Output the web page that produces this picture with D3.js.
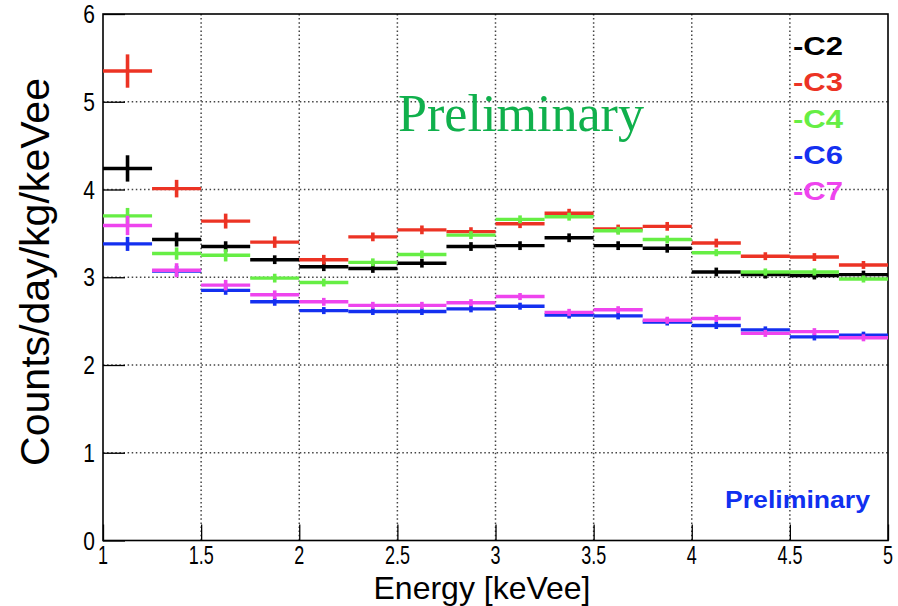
<!DOCTYPE html>
<html><head><meta charset="utf-8">
<script src="https://cdn.jsdelivr.net/npm/d3@7/dist/d3.min.js"></script>
<style>body{margin:0;background:#fff}svg{display:block}</style>
</head><body>
<script>
// ---- data ----
const binCenters = [1.125,1.375,1.625,1.875,2.125,2.375,2.625,2.875,3.125,3.375,3.625,3.875,4.125,4.375,4.625,4.875];
const binHalfWidth = 0.125;
const seriesNames = ["C2","C3","C4","C6","C7"];
const C2 = [4.24,3.43,3.35,3.20,3.12,3.10,3.16,3.35,3.36,3.45,3.36,3.33,3.06,3.03,3.02,3.03];
const C3 = [5.35,4.01,3.64,3.40,3.20,3.46,3.54,3.52,3.61,3.73,3.55,3.58,3.39,3.24,3.23,3.14];
const C4 = [3.70,3.27,3.25,2.99,2.94,3.17,3.26,3.48,3.66,3.69,3.53,3.43,3.28,3.06,3.06,2.98];
const C6 = [3.38,3.07,2.85,2.72,2.62,2.61,2.61,2.64,2.67,2.57,2.56,2.49,2.45,2.40,2.32,2.34];
const C7 = [3.59,3.08,2.91,2.80,2.72,2.68,2.68,2.71,2.78,2.60,2.63,2.51,2.53,2.36,2.38,2.31];
const C2err = [0.15,0.08,0.06,0.05,0.05,0.05,0.05,0.05,0.05,0.05,0.05,0.05,0.05,0.045,0.045,0.045];
const C3err = [0.19,0.10,0.085,0.065,0.055,0.05,0.05,0.05,0.05,0.05,0.05,0.05,0.05,0.045,0.045,0.045];
const C4err = [0.09,0.07,0.07,0.05,0.045,0.045,0.045,0.045,0.045,0.045,0.045,0.045,0.04,0.04,0.04,0.04];
const C6err = [0.08,0.06,0.05,0.045,0.04,0.04,0.04,0.04,0.04,0.04,0.04,0.04,0.04,0.04,0.04,0.04];
const C7err = [0.11,0.08,0.06,0.05,0.045,0.04,0.04,0.04,0.04,0.04,0.04,0.04,0.04,0.04,0.04,0.04];
const xTicks = [1,1.5,2,2.5,3,3.5,4,4.5,5];
const yTicks = [0,1,2,3,4,5,6];
const xTitle = "Energy [keVee]";
const yTitle = "Counts/day/kg/keVee";
const watermark1 = "Preliminary";
const watermark2 = "Preliminary";

const colors = {C2:"#000000",C3:"#ec3324",C4:"#66ee44",C6:"#1430f0",C7:"#ee44ee"};
const values = {C2,C3,C4,C6,C7};
const errors = {C2:C2err,C3:C3err,C4:C4err,C6:C6err,C7:C7err};

// ---- layout ----
const W = 898, H = 606;
const L = 103, R = 888, T = 14, B = 540.5;
const svg = d3.select("body").append("svg").attr("width",W).attr("height",H);
const x = d3.scaleLinear().domain([1,5]).range([L,R]);
const y = d3.scaleLinear().domain([0,6]).range([B,T]);
const fontSans = "'Liberation Sans', Arial, Helvetica, sans-serif";

// grid
const grid = svg.append("g").attr("stroke","#444").attr("stroke-width",1.5).attr("stroke-dasharray","1.5,2.6");
grid.selectAll("line.gx").data(xTicks.slice(1,-1)).join("line").attr("class","gx")
  .attr("x1",d=>x(d)).attr("x2",d=>x(d)).attr("y1",T).attr("y2",B);
grid.selectAll("line.gy").data(yTicks.slice(1,-1)).join("line").attr("class","gy")
  .attr("x1",L).attr("x2",R).attr("y1",d=>y(d)).attr("y2",d=>y(d));

// axes (ticks from d3 axis, labels placed with the same scales)
const xAxis = d3.axisBottom(x).tickValues(xTicks).tickSize(-16).tickFormat("");
const yAxis = d3.axisLeft(y).tickValues(yTicks).tickSize(-22).tickFormat("");
const gx = svg.append("g").attr("transform",`translate(0,${B})`).call(xAxis);
const gy = svg.append("g").attr("transform",`translate(${L},0)`).call(yAxis);
[gx,gy].forEach(g=>{
  g.select(".domain").remove();
  g.selectAll(".tick line").attr("stroke","#000").attr("stroke-width",1.3);
  g.selectAll(".tick text").remove();
});
const fmtX = d3.format("~g");
svg.append("g").selectAll("text").data(xTicks).join("text")
  .attr("transform",d=>`translate(${x(d)},${B+23}) scale(0.72,1)`)
  .attr("text-anchor","middle").attr("font-family",fontSans).attr("font-size",25)
  .attr("fill","#000").text(d=>fmtX(d));
svg.append("g").selectAll("text").data(yTicks).join("text")
  .attr("transform",d=>`translate(${L-8},${y(d)+9}) scale(0.84,1)`)
  .attr("text-anchor","end").attr("font-family",fontSans).attr("font-size",25)
  .attr("fill","#000").text(d=>d3.format("d")(d));

// frame
svg.append("rect").attr("x",L).attr("y",T).attr("width",R-L).attr("height",B-T)
  .attr("fill","none").attr("stroke","#000").attr("stroke-width",1.6);

// data marks
const plot = svg.append("g");
seriesNames.forEach(name=>{
  const g = plot.append("g").attr("stroke",colors[name]);
  const vals = values[name], errs = errors[name];
  g.selectAll("line.h").data(binCenters).join("line").attr("class","h")
    .attr("x1",(d)=>x(d-binHalfWidth)).attr("x2",(d)=>x(d+binHalfWidth))
    .attr("y1",(d,i)=>y(vals[i])).attr("y2",(d,i)=>y(vals[i]))
    .attr("stroke-width",3.4);
  g.selectAll("line.v").data(binCenters).join("line").attr("class","v")
    .attr("x1",d=>x(d)).attr("x2",d=>x(d))
    .attr("y1",(d,i)=>y(vals[i]-errs[i])).attr("y2",(d,i)=>y(vals[i]+errs[i]))
    .attr("stroke-width",3.6);
});

// axis titles
svg.append("text").attr("x",482).attr("y",599).attr("text-anchor","middle")
  .attr("font-family",fontSans).attr("font-size",32).attr("fill","#000")
  .attr("textLength",217).attr("lengthAdjust","spacingAndGlyphs").text(xTitle);
svg.append("text").attr("transform","translate(49,272) rotate(-90)").attr("text-anchor","middle")
  .attr("font-family",fontSans).attr("font-size",40).attr("fill","#000")
  .attr("textLength",388).attr("lengthAdjust","spacingAndGlyphs").text(yTitle);

// legend
const leg = svg.append("g");
seriesNames.forEach((name,i)=>{
  leg.append("text").attr("x",793).attr("y",55+i*36.3)
    .attr("font-family",fontSans).attr("font-weight","bold").attr("font-size",25)
    .attr("fill",colors[name]).attr("textLength",50).attr("lengthAdjust","spacingAndGlyphs")
    .text("-"+name);
});

// watermarks
svg.append("text").attr("x",398).attr("y",131)
  .attr("font-family","'Liberation Serif','Times New Roman',serif").attr("font-size",52)
  .attr("fill","#10b04c").attr("textLength",246).attr("lengthAdjust","spacingAndGlyphs").text(watermark1);
svg.append("text").attr("x",725).attr("y",508)
  .attr("font-family",fontSans).attr("font-weight","bold").attr("font-size",24)
  .attr("fill","#1030f0").attr("textLength",145).attr("lengthAdjust","spacingAndGlyphs").text(watermark2);
</script>
</body></html>
